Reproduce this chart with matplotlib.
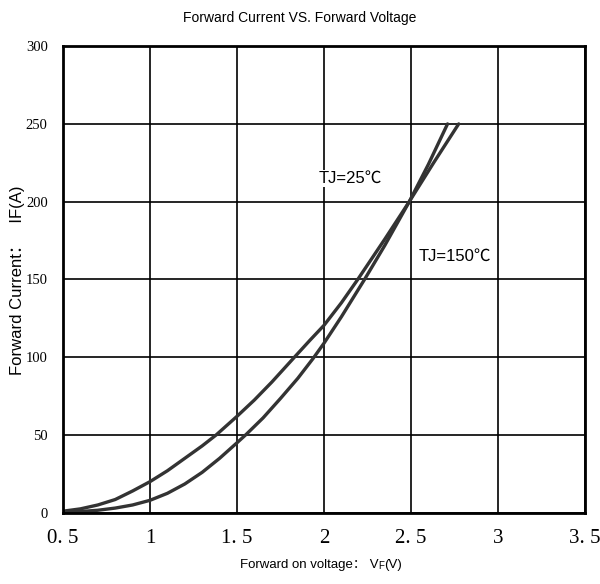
import numpy as np
import matplotlib.pyplot as plt

# Forward voltage (V) and forward current (A)
vf_25 = [0.5, 0.6, 0.7, 0.8, 0.9, 1.0, 1.1, 1.2, 1.3, 1.4, 1.5, 1.554, 1.65, 1.75, 1.85, 1.936,
         2.0, 2.1, 2.233, 2.35, 2.49, 2.6, 2.71]
if_25 = [0.5, 0.8, 1.6, 3, 5, 8, 12.5, 18.5, 26, 35, 45, 50.5, 61, 73.5, 86.5, 99,
         109, 126, 150, 172, 200, 224, 250]

vf_150 = [0.5, 0.6, 0.7, 0.8, 0.9, 1.0, 1.1, 1.2, 1.3, 1.38, 1.5, 1.6, 1.7, 1.83, 1.92, 2.0,
          2.1, 2.194, 2.35, 2.49, 2.63, 2.774]
if_150 = [1, 2.5, 5, 8.5, 14, 20, 27, 35, 43, 50, 62, 72.5, 84, 100, 111, 120.5,
          135, 150, 176, 200, 225, 250]

x_ticks = [0.5, 1, 1.5, 2, 2.5, 3, 3.5]
x_tick_labels = ['0. 5', '1', '1. 5', '2', '2. 5', '3', '3. 5']
y_ticks = [0, 50, 100, 150, 200, 250, 300]

sans = ['Liberation Sans Narrow', 'Liberation Sans', 'Noto Sans CJK SC', 'DejaVu Sans']
serif = ['Liberation Serif', 'DejaVu Serif']

fig = plt.figure(figsize=(6, 5.84), dpi=100)
ax = fig.add_axes([0.105, 0.122, 0.87, 0.799])

ax.plot(vf_25, if_25, color='#333333', lw=2.4, solid_capstyle='round', solid_joinstyle='round')
ax.plot(vf_150, if_150, color='#333333', lw=2.4, solid_capstyle='round', solid_joinstyle='round')

ax.set_xlim(0.5, 3.5)
ax.set_ylim(0, 300)
ax.set_xticks(x_ticks)
ax.set_xticklabels(x_tick_labels, family=serif, fontsize=15)
ax.set_yticks(y_ticks)
ax.set_yticklabels([str(v) for v in y_ticks], family=serif, fontsize=10.5)
ax.tick_params(axis='x', length=0, pad=12)
ax.tick_params(axis='y', length=0, pad=11)
ax.grid(True, color='black', lw=1.2)
ax.set_axisbelow(True)
for s in ax.spines.values():
    s.set_linewidth(2)

ax.text(2.15, 215, 'TJ=25℃', fontsize=12, family=sans, ha='center', va='center',
        bbox=dict(facecolor='white', edgecolor='none', pad=1))
ax.text(2.75, 165, 'TJ=150℃', fontsize=12, family=sans, ha='center', va='center',
        bbox=dict(facecolor='white', edgecolor='none', pad=1))

fig.text(0.5, 0.969, 'Forward Current VS. Forward Voltage', ha='center', va='center',
         fontsize=10, family=sans)
fig.text(0.03, 0.52, 'Forward Current：   IF(A)', fontsize=12, family=sans,
         rotation=90, ha='center', va='center')

# x label with subscript F, built from pieces (mathtext has no CJK fallback for the colon)
t1 = fig.text(0.4, 0.027, 'Forward on voltage： V', fontsize=9.5, family=sans, va='baseline')
t2 = ax.annotate('F', xy=(1, 0), xycoords=t1, fontsize=7, family=sans, va='bottom', ha='left',
                 annotation_clip=False)
ax.annotate('(V)', xy=(1, 0), xycoords=t2, xytext=(0, 0.5), textcoords='offset points',
            fontsize=9.5, family=sans, va='bottom', ha='left', annotation_clip=False)

fig.savefig('out.png', dpi=100)
